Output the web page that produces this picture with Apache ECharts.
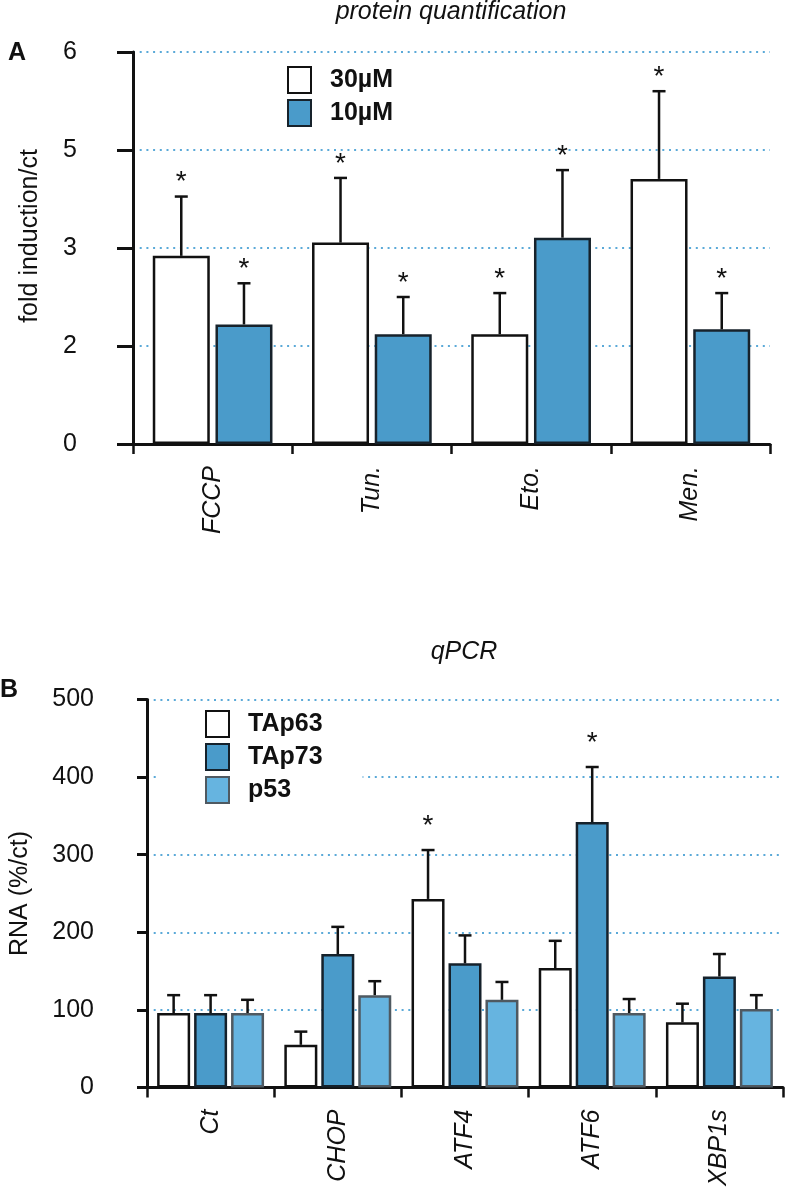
<!DOCTYPE html>
<html><head><meta charset="utf-8">
<script src="https://cdn.jsdelivr.net/npm/echarts@6/dist/echarts.min.js"></script>
<style>html,body{margin:0;padding:0;background:#fff}#c{width:787px;height:1191px}</style>
</head><body><div id="c"></div>
<script>
// ---------- Panel A data ----------
const catsA = ['FCCP', 'Tun.', 'Eto.', 'Men.'];
const ticksA = [0, 2, 3, 5, 6];          // tick labels as printed on the axis (evenly spaced)
const seriesA = ['30µM', '10µM'];
const meanA30 = [2.92, 3.11, 2.12, 4.41];
const errA30  = [1.13, 1.32, 0.42, 1.19];
const meanA10 = [2.22, 2.12, 3.21, 2.17];
const errA10  = [0.42, 0.38, 1.38, 0.37];
const starA30 = [1, 1, 1, 1];
const starA10 = [1, 1, 1, 1];

// ---------- Panel B data ----------
const catsB = ['Ct', 'CHOP', 'ATF4', 'ATF6', 'XBP1s'];
const ticksB = [0, 100, 200, 300, 400, 500];
const seriesB = ['TAp63', 'TAp73', 'p53'];
const meanTAp63 = [96, 55, 243, 154, 84];
const errTAp63  = [23, 17, 63, 35, 24];
const meanTAp73 = [96, 172, 160, 342, 143];
const errTAp73  = [23, 35, 36, 71, 29];
const meanP53   = [96, 119, 113, 96, 101];
const errP53    = [17, 18, 23, 18, 18];
const starTAp63 = [0, 0, 1, 0, 0];
const starTAp73 = [0, 0, 0, 1, 0];
const starP53   = [0, 0, 0, 0, 0];

const FONT = '"Liberation Sans", Arial, Helvetica, sans-serif';
const INK = '#111';
const GRID_DOT = '#5aa9d8';

// map printed-label value onto the evenly spaced tick positions of axis A
function toPosA(v) {
  for (let i = 0; i < ticksA.length - 1; i++) {
    if (v <= ticksA[i + 1] || i === ticksA.length - 2) {
      return i + (v - ticksA[i]) / (ticksA[i + 1] - ticksA[i]);
    }
  }
}
const ident = v => v;

function errSeries(name, xi, yi, means, errs, stars, idx, n, bw, gap, conv, starOff) {
  const data = means.map((m, i) => [i, conv(m), conv(m + errs[i]), stars[i]]);
  return {
    type: 'custom', name: name + ' err', xAxisIndex: xi, yAxisIndex: yi, data: data, z: 5, silent: true,
    renderItem: function (params, api) {
      const ci = api.value(0);
      const p0 = api.coord([ci, api.value(1)]);
      const p1 = api.coord([ci, api.value(2)]);
      const total = n * bw + (n - 1) * bw * gap;
      const x = p0[0] - total / 2 + bw / 2 + idx * bw * (1 + gap);
      const children = [
        { type: 'line', shape: { x1: x, y1: p0[1], x2: x, y2: p1[1] }, style: { stroke: INK, lineWidth: 2.5 } },
        { type: 'line', shape: { x1: x - 6.5, y1: p1[1], x2: x + 6.5, y2: p1[1] }, style: { stroke: INK, lineWidth: 2.5 } }
      ];
      if (api.value(3)) {
        children.push({ type: 'text', style: { text: '*', x: x, y: p1[1] - starOff, align: 'center', verticalAlign: 'middle',
          fontSize: 28, fontFamily: FONT, fill: INK } });
      }
      return { type: 'group', children: children };
    }
  };
}

const BW_A = 57, GAP_A = 0.1;
const BW_B = 33, GAP_B = 0.12;

const styleA = [
  { color: '#ffffff', borderColor: INK, borderWidth: 2.5 },
  { color: '#4a9bca', borderColor: '#17222b', borderWidth: 2.5 }
];
const styleB = [
  { color: '#ffffff', borderColor: INK, borderWidth: 2.5 },
  { color: '#4a9bca', borderColor: '#15212b', borderWidth: 2.5 },
  { color: '#66b4e0', borderColor: '#4f5961', borderWidth: 2.5 }
];

const yAxisCommon = {
  type: 'value',
  axisLine: { show: true, lineStyle: { color: INK, width: 3 } },
  axisTick: { show: true, lineStyle: { color: INK, width: 3 } },
  splitLine: { show: true, lineStyle: { color: GRID_DOT, width: 2, type: [2, 4.7] } },
  nameLocation: 'middle'
};
const xAxisCommon = {
  type: 'category',
  axisLine: { show: true, lineStyle: { color: INK, width: 3 } },
  axisTick: { show: true, length: 10, lineStyle: { color: INK, width: 2.5 } },
  splitLine: { show: false }
};

const option = {
  backgroundColor: '#ffffff',
  animation: false,
  textStyle: { fontFamily: FONT },
  title: [
    { text: 'protein quantification', left: 451, top: 0, textAlign: 'center', padding: 0,
      textStyle: { fontSize: 25, fontStyle: 'italic', fontWeight: 'normal', fontFamily: FONT, color: INK } },
    { text: 'qPCR', left: 464, top: 640, textAlign: 'center', padding: 0,
      textStyle: { fontSize: 25, fontStyle: 'italic', fontWeight: 'normal', fontFamily: FONT, color: INK } },
    { text: 'A', left: 8, top: 41, padding: 0,
      textStyle: { fontSize: 25, fontWeight: 'bold', fontFamily: FONT, color: INK } },
    { text: 'B', left: 0, top: 678, padding: 0,
      textStyle: { fontSize: 25, fontWeight: 'bold', fontFamily: FONT, color: INK } }
  ],
  legend: [
    { data: seriesA, orient: 'vertical', left: 287, top: 66, padding: 0, itemWidth: 23, itemHeight: 26, itemGap: 5,
      icon: 'rect', selectedMode: false,
      textStyle: { fontSize: 25, fontWeight: 'bold', fontFamily: FONT, color: INK, padding: [0, 0, 0, 14] } },
    { data: seriesB, orient: 'vertical', left: 157, top: 704, padding: [6, 40, 6, 48], itemWidth: 23, itemHeight: 26, itemGap: 5,
      icon: 'rect', selectedMode: false, backgroundColor: '#ffffff',
      textStyle: { fontSize: 25, fontWeight: 'bold', fontFamily: FONT, color: INK, padding: [0, 0, 0, 14] } }
  ],
  grid: [
    { left: 133, right: 17, top: 52, height: 392 },
    { left: 146, right: 4, top: 699.5, height: 388 }
  ],
  xAxis: [
    Object.assign({}, xAxisCommon, { gridIndex: 0, data: catsA,
      axisLabel: { rotate: 90, margin: 22, interval: 0, fontSize: 25, fontStyle: 'italic', fontFamily: FONT, color: INK } }),
    Object.assign({}, xAxisCommon, { gridIndex: 1, data: catsB,
      axisLabel: { rotate: 90, margin: 22, interval: 0, fontSize: 25, fontStyle: 'italic', fontFamily: FONT, color: INK } })
  ],
  yAxis: [
    Object.assign({}, yAxisCommon, { gridIndex: 0, min: 0, max: ticksA.length - 1, interval: 1,
      name: 'fold induction/ct', nameGap: 90,
      nameTextStyle: { fontSize: 25, fontFamily: FONT, color: INK, padding: [0, 0, 0, 24] },
      axisTick: { show: true, length: 16, lineStyle: { color: INK, width: 3 } },
      axisLabel: { margin: 56, fontSize: 25, fontFamily: FONT, color: INK, formatter: v => String(ticksA[Math.round(v)]) } }),
    Object.assign({}, yAxisCommon, { gridIndex: 1, min: ticksB[0], max: ticksB[ticksB.length - 1], interval: 100,
      name: 'RNA (%/ct)', nameGap: 114,
      nameTextStyle: { fontSize: 25, fontFamily: FONT, color: INK },
      axisTick: { show: true, length: 10, lineStyle: { color: INK, width: 3 } },
      axisLabel: { margin: 53, fontSize: 25, fontFamily: FONT, color: INK } })
  ],
  series: [
    { type: 'bar', name: seriesA[0], xAxisIndex: 0, yAxisIndex: 0, data: meanA30.map(toPosA),
      barWidth: BW_A, barGap: (GAP_A * 100) + '%', itemStyle: styleA[0] },
    { type: 'bar', name: seriesA[1], xAxisIndex: 0, yAxisIndex: 0, data: meanA10.map(toPosA),
      barWidth: BW_A, barGap: (GAP_A * 100) + '%', itemStyle: styleA[1] },
    errSeries(seriesA[0], 0, 0, meanA30, errA30, starA30, 0, 2, BW_A, GAP_A, toPosA, 14),
    errSeries(seriesA[1], 0, 0, meanA10, errA10, starA10, 1, 2, BW_A, GAP_A, toPosA, 14),

    { type: 'bar', name: seriesB[0], xAxisIndex: 1, yAxisIndex: 1, data: meanTAp63,
      barWidth: BW_B, barGap: (GAP_B * 100) + '%', itemStyle: styleB[0] },
    { type: 'bar', name: seriesB[1], xAxisIndex: 1, yAxisIndex: 1, data: meanTAp73,
      barWidth: BW_B, barGap: (GAP_B * 100) + '%', itemStyle: styleB[1] },
    { type: 'bar', name: seriesB[2], xAxisIndex: 1, yAxisIndex: 1, data: meanP53,
      barWidth: BW_B, barGap: (GAP_B * 100) + '%', itemStyle: styleB[2] },
    errSeries(seriesB[0], 1, 1, meanTAp63, errTAp63, starTAp63, 0, 3, BW_B, GAP_B, ident, 24),
    errSeries(seriesB[1], 1, 1, meanTAp73, errTAp73, starTAp73, 1, 3, BW_B, GAP_B, ident, 24),
    errSeries(seriesB[2], 1, 1, meanP53, errP53, starP53, 2, 3, BW_B, GAP_B, ident, 24)
  ]
};

const chart = echarts.init(document.getElementById('c'), null, { renderer: 'canvas', width: 787, height: 1191 });
chart.setOption(option);
</script>
</body></html>
